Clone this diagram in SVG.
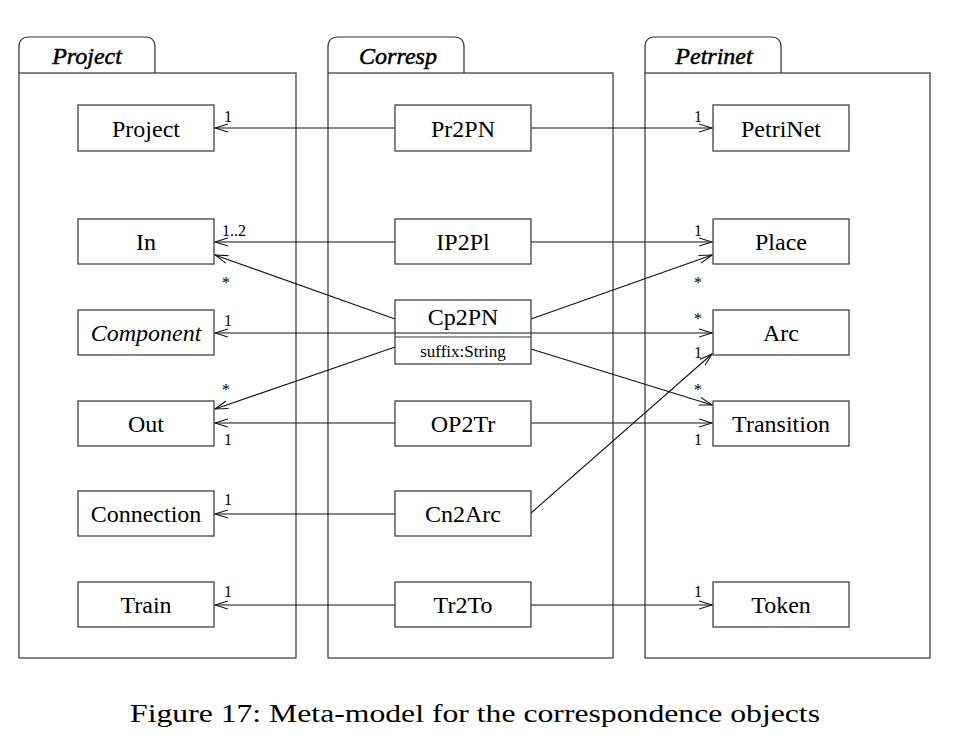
<svg xmlns="http://www.w3.org/2000/svg" width="956" height="742" viewBox="0 0 956 742">
<style>
.pkg{fill:#fff;stroke:#333;stroke-width:1.2}
.box{fill:#fff;stroke:#333;stroke-width:1.2}
.t{font-family:"Liberation Serif","Times New Roman",serif;font-size:24px;text-anchor:middle;fill:#000}
.pt{font-family:"Liberation Serif","Times New Roman",serif;font-size:24px;font-style:italic;text-anchor:middle;fill:#000;stroke:#000;stroke-width:0.5}
.attr{font-family:"Liberation Serif","Times New Roman",serif;font-size:17px;text-anchor:middle;fill:#000}
.m{font-family:"Liberation Serif","Times New Roman",serif;font-size:16px;fill:#000}
.c{fill:none;stroke:#111;stroke-width:1.1;marker-end:url(#open)}
.cap{font-family:"Liberation Serif","Times New Roman",serif;font-size:26px;fill:#000}
</style>
<defs>
<marker id="open" viewBox="0 0 14 10" refX="13" refY="5" markerWidth="14" markerHeight="10" markerUnits="userSpaceOnUse" orient="auto">
<path d="M0,1 L13,5 L0,9" fill="none" stroke="#111" stroke-width="1.1"/>
</marker>
</defs>
<rect width="956" height="742" fill="#fff"/>
<g id="pkg-project">
<path class="pkg" d="M19,73 V47 Q19,37 29,37 H145 Q155,37 155,47 V73"/>
<rect class="pkg" x="19" y="73" width="277" height="585"/>
<text class="pt" x="87" y="64">Project</text>
</g>
<g id="pkg-corresp">
<path class="pkg" d="M328,73 V47 Q328,37 338,37 H454 Q464,37 464,47 V73"/>
<rect class="pkg" x="328" y="73" width="285" height="585"/>
<text class="pt" x="398" y="64">Corresp</text>
</g>
<g id="pkg-petrinet">
<path class="pkg" d="M645,73 V47 Q645,37 655,37 H771 Q781,37 781,47 V73"/>
<rect class="pkg" x="645" y="73" width="285" height="585"/>
<text class="pt" x="714" y="64">Petrinet</text>
</g>
<g id="connectors">
<line class="c" x1="395" y1="128" x2="215" y2="128"/>
<line class="c" x1="531" y1="128" x2="712" y2="128"/>
<line class="c" x1="395" y1="242" x2="215" y2="242"/>
<line class="c" x1="531" y1="242" x2="712" y2="242"/>
<line class="c" x1="395" y1="319" x2="215" y2="255"/>
<line class="c" x1="531" y1="319" x2="712" y2="255"/>
<line class="c" x1="396" y1="333" x2="215" y2="333"/>
<line class="c" x1="530" y1="333" x2="712" y2="333"/>
<line class="c" x1="395" y1="347" x2="215" y2="409"/>
<line class="c" x1="531" y1="349" x2="712" y2="405"/>
<line class="c" x1="395" y1="423" x2="215" y2="423"/>
<line class="c" x1="531" y1="423" x2="712" y2="423"/>
<line class="c" x1="395" y1="514" x2="215" y2="514"/>
<line class="c" x1="531" y1="513" x2="712" y2="354"/>
<line class="c" x1="395" y1="605" x2="215" y2="605"/>
<line class="c" x1="531" y1="605" x2="712" y2="605"/>
<text class="m" x="224" y="122">1</text>
<text class="m" x="694" y="122">1</text>
<text class="m" x="222" y="236">1..2</text>
<text class="m" x="694" y="236">1</text>
<text class="m" x="222" y="288">*</text>
<text class="m" x="694" y="288">*</text>
<text class="m" x="224" y="326">1</text>
<text class="m" x="694" y="324">*</text>
<text class="m" x="694" y="358">1</text>
<text class="m" x="222" y="395">*</text>
<text class="m" x="694" y="395">*</text>
<text class="m" x="224" y="445">1</text>
<text class="m" x="694" y="445">1</text>
<text class="m" x="224" y="505">1</text>
<text class="m" x="224" y="597">1</text>
<text class="m" x="694" y="597">1</text>
</g>
<g id="n-project"><rect class="box" x="78" y="105" width="136" height="46"/><text class="t" x="146" y="137">Project</text></g>
<g id="n-in"><rect class="box" x="78" y="219" width="136" height="45"/><text class="t" x="146" y="250">In</text></g>
<g id="n-component"><rect class="box" x="78" y="310" width="136" height="45"/><text class="t" x="146" y="341" font-style="italic">Component</text></g>
<g id="n-out"><rect class="box" x="78" y="401" width="136" height="45"/><text class="t" x="146" y="432">Out</text></g>
<g id="n-connection"><rect class="box" x="78" y="491" width="136" height="45"/><text class="t" x="146" y="522">Connection</text></g>
<g id="n-train"><rect class="box" x="78" y="582" width="136" height="45"/><text class="t" x="146" y="613">Train</text></g>
<g id="n-pr2pn"><rect class="box" x="395" y="105" width="136" height="46"/><text class="t" x="463" y="137">Pr2PN</text></g>
<g id="n-ip2pl"><rect class="box" x="395" y="219" width="136" height="45"/><text class="t" x="463" y="250">IP2Pl</text></g>
<g id="n-cp2pn"><rect class="box" x="395" y="300" width="136" height="64"/><line x1="395" y1="337" x2="531" y2="337" stroke="#333" stroke-width="1.2"/><line x1="395" y1="333" x2="531" y2="333" stroke="#111" stroke-width="1.1"/><text class="t" x="463" y="325">Cp2PN</text><text class="attr" x="463" y="357">suffix:String</text></g>
<g id="n-op2tr"><rect class="box" x="395" y="401" width="136" height="45"/><text class="t" x="463" y="432">OP2Tr</text></g>
<g id="n-cn2arc"><rect class="box" x="395" y="491" width="136" height="45"/><text class="t" x="463" y="522">Cn2Arc</text></g>
<g id="n-tr2to"><rect class="box" x="395" y="582" width="136" height="45"/><text class="t" x="463" y="613">Tr2To</text></g>
<g id="n-petrinet"><rect class="box" x="713" y="105" width="136" height="46"/><text class="t" x="781" y="137">PetriNet</text></g>
<g id="n-place"><rect class="box" x="713" y="219" width="136" height="45"/><text class="t" x="781" y="250">Place</text></g>
<g id="n-arc"><rect class="box" x="713" y="310" width="136" height="45"/><text class="t" x="781" y="341">Arc</text></g>
<g id="n-transition"><rect class="box" x="713" y="401" width="136" height="45"/><text class="t" x="781" y="432">Transition</text></g>
<g id="n-token"><rect class="box" x="713" y="582" width="136" height="45"/><text class="t" x="781" y="613">Token</text></g>
<text class="cap" x="130" y="722" textLength="690" lengthAdjust="spacingAndGlyphs">Figure 17: Meta-model for the correspondence objects</text>
</svg>
